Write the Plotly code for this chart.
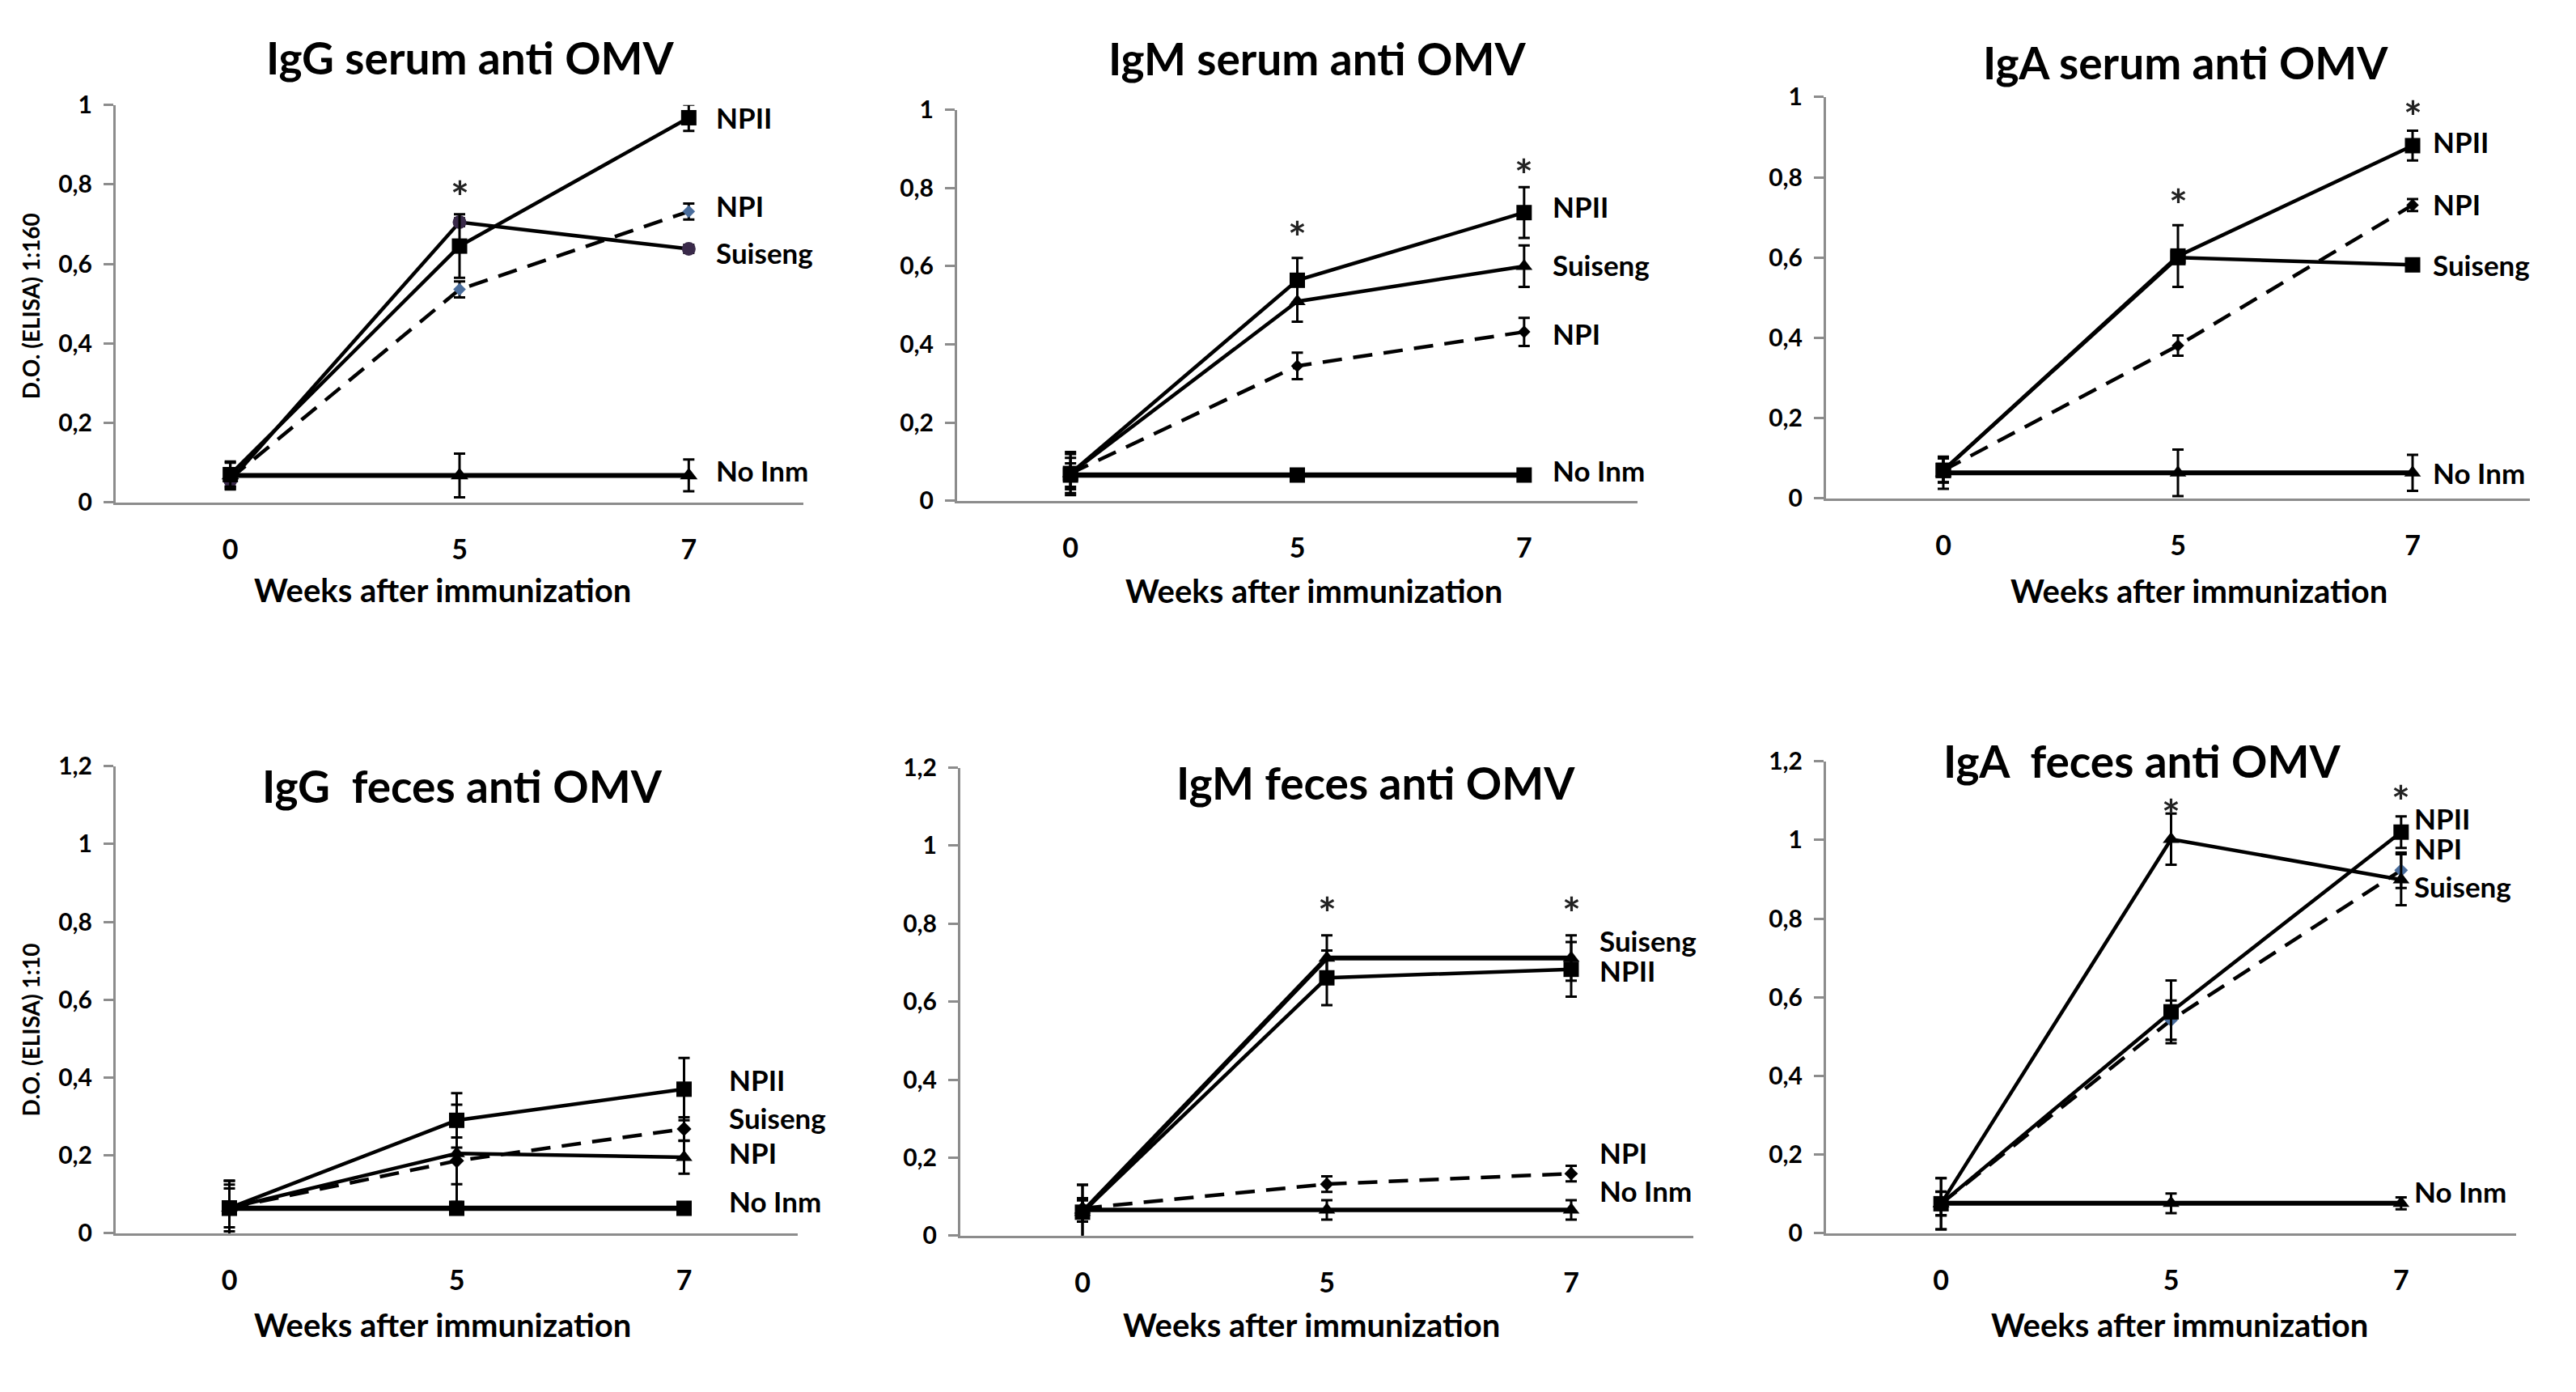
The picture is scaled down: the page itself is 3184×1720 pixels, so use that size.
import plotly.graph_objects as go

# ELISA anti-OMV antibody titres, serum (top row) and feces (bottom row)

W, H = 3184, 1720
PAD = 8  # default body margin of the html page

weeks = ["0", "5", "7"]

# IgG serum 1:160
igg_serum_npii = [0.07, 0.645, 0.968]
igg_serum_npii_err = [0.03, 0.08, 0.033]
igg_serum_npi = [0.06, 0.536, 0.732]
igg_serum_npi_err = [0.02, 0.02, 0.02]
igg_serum_suiseng = [0.055, 0.705, 0.638]
igg_serum_suiseng_err = [0.02, 0.01, 0.01]
igg_serum_noinm = [0.068, 0.068, 0.068]
igg_serum_noinm_err = [0.035, 0.055, 0.04]

# IgM serum
igm_serum_npii = [0.07, 0.564, 0.737]
igm_serum_npii_err = [0.055, 0.057, 0.065]
igm_serum_suiseng = [0.07, 0.51, 0.6]
igm_serum_suiseng_err = [0.05, 0.052, 0.053]
igm_serum_npi = [0.07, 0.345, 0.432]
igm_serum_npi_err = [0.04, 0.034, 0.036]
igm_serum_noinm = [0.066, 0.066, 0.066]
igm_serum_noinm_err = [0.03, 0.01, 0.01]

# IgA serum
iga_serum_npii = [0.07, 0.604, 0.879]
iga_serum_npii_err = [0.03, 0.077, 0.037]
iga_serum_suiseng = [0.07, 0.6, 0.582]
iga_serum_suiseng_err = [0.03, 0.01, 0.01]
iga_serum_npi = [0.07, 0.381, 0.731]
iga_serum_npi_err = [0.03, 0.025, 0.015]
iga_serum_noinm = [0.064, 0.064, 0.064]
iga_serum_noinm_err = [0.04, 0.058, 0.045]

# IgG feces 1:10
igg_feces_npii = [0.065, 0.29, 0.37]
igg_feces_npii_err = [0.07, 0.07, 0.08]
igg_feces_suiseng = [0.065, 0.186, 0.268]
igg_feces_suiseng_err = [0.06, 0.06, 0.03]
igg_feces_npi = [0.065, 0.205, 0.195]
igg_feces_npi_err = [0.05, 0.125, 0.042]
igg_feces_noinm = [0.064, 0.064, 0.064]
igg_feces_noinm_err = [0.07, 0.01, 0.01]

# IgM feces
igm_feces_suiseng = [0.06, 0.712, 0.712]
igm_feces_suiseng_err = [0.07, 0.058, 0.058]
igm_feces_npii = [0.06, 0.661, 0.683]
igm_feces_npii_err = [0.07, 0.07, 0.07]
igm_feces_npi = [0.07, 0.132, 0.159]
igm_feces_npi_err = [0.02, 0.02, 0.02]
igm_feces_noinm = [0.066, 0.066, 0.066]
igm_feces_noinm_err = [0.03, 0.025, 0.025]

# IgA feces
iga_feces_suiseng = [0.075, 1.002, 0.899]
iga_feces_suiseng_err = [0.065, 0.065, 0.065]
iga_feces_npii = [0.075, 0.563, 1.02]
iga_feces_npii_err = [0.065, 0.08, 0.04]
iga_feces_npi = [0.075, 0.542, 0.923]
iga_feces_npi_err = [0.03, 0.05, 0.045]
iga_feces_noinm = [0.076, 0.076, 0.076]
iga_feces_noinm_err = [0.03, 0.025, 0.015]

FONT = "Lato"
BLUE = "#4a6d9c"
PURPLE = "#3a2a4a"
AXIS = "#8c8c8c"

# series: (values, errors, marker symbol, marker size, marker colour, dashed, line width)
panels = [
    dict(
        title="IgG serum anti OMV", title_xy=(581, 52),
        xbox=(143, 993), ybox=(112, 614), ymax=1.0,
        xtitle_xy=(547, 725), ytitle="D.O. (ELISA) 1:160", ytitle_xy=(38, 366),
        series=[
            (igg_serum_noinm, igg_serum_noinm_err, "triangle-up", 19, "black", False, 6),
            (igg_serum_npi, igg_serum_npi_err, "diamond", 12, BLUE, True, 4.5),
            (igg_serum_suiseng, igg_serum_suiseng_err, "circle", 17, PURPLE, False, 4.5),
            (igg_serum_npii, igg_serum_npii_err, "square", 19, "black", False, 4.5),
        ],
        labels=[("NPII", 0.968), ("NPI", 0.747), ("Suiseng", 0.628), ("No Inm", 0.082)], label_x=2.11,
        stars=[(1, 0.79), (2, 1.04)],
    ),
    dict(
        title="IgM serum anti OMV", title_xy=(1628, 53),
        xbox=(1183, 2024), ybox=(118, 612), ymax=1.0,
        xtitle_xy=(1624, 726), ytitle=None,
        series=[
            (igm_serum_noinm, igm_serum_noinm_err, "square", 19, "black", False, 6.5),
            (igm_serum_npi, igm_serum_npi_err, "diamond", 12, "black", True, 4.5),
            (igm_serum_suiseng, igm_serum_suiseng_err, "triangle-up", 18, "black", False, 4.5),
            (igm_serum_npii, igm_serum_npii_err, "square", 19, "black", False, 4.5),
        ],
        labels=[("NPII", 0.754), ("Suiseng", 0.605), ("NPI", 0.429), ("No Inm", 0.078)], label_x=2.12,
        stars=[(1, 0.697), (2, 0.855)],
    ),
    dict(
        title="IgA serum anti OMV", title_xy=(2701, 58),
        xbox=(2257, 3127), ybox=(102, 609), ymax=1.0,
        xtitle_xy=(2718, 726), ytitle=None,
        series=[
            (iga_serum_noinm, iga_serum_noinm_err, "triangle-up", 18, "black", False, 6),
            (iga_serum_npi, iga_serum_npi_err, "diamond", 12, "black", True, 4.5),
            (iga_serum_suiseng, iga_serum_suiseng_err, "square", 19, "black", False, 4.5),
            (iga_serum_npii, iga_serum_npii_err, "square", 19, "black", False, 4.5),
        ],
        labels=[("NPII", 0.889), ("NPI", 0.733), ("Suiseng", 0.582), ("No Inm", 0.064)], label_x=2.08,
        stars=[(1, 0.753), (2, 0.973)],
    ),
    dict(
        title="IgG  feces anti OMV", title_xy=(571, 972),
        xbox=(143, 986), ybox=(947, 1537), ymax=1.2,
        xtitle_xy=(547, 1653), ytitle="D.O. (ELISA) 1:10", ytitle_xy=(38, 1280),
        series=[
            (igg_feces_noinm, igg_feces_noinm_err, "square", 19, "black", False, 6.5),
            (igg_feces_suiseng, igg_feces_suiseng_err, "diamond", 14, "black", True, 4.5),
            (igg_feces_npi, igg_feces_npi_err, "triangle-up", 18, "black", False, 4.5),
            (igg_feces_npii, igg_feces_npii_err, "square", 19, "black", False, 4.5),
        ],
        labels=[("NPII", 0.395), ("Suiseng", 0.296), ("NPI", 0.208), ("No Inm", 0.082)], label_x=2.19,
        stars=[],
    ),
    dict(
        title="IgM feces anti OMV", title_xy=(1700, 968),
        xbox=(1187, 2093), ybox=(949, 1540), ymax=1.2,
        xtitle_xy=(1621, 1653), ytitle=None,
        series=[
            (igm_feces_noinm, igm_feces_noinm_err, "triangle-up", 18, "black", False, 5.5),
            (igm_feces_npi, igm_feces_npi_err, "diamond", 13, "black", True, 4.5),
            (igm_feces_npii, igm_feces_npii_err, "square", 19, "black", False, 4.5),
            (igm_feces_suiseng, igm_feces_suiseng_err, "triangle-up", 18, "black", False, 6),
        ],
        labels=[("Suiseng", 0.756), ("NPII", 0.68), ("NPI", 0.214), ("No Inm", 0.115)], label_x=2.11,
        stars=[(1, 0.85), (2, 0.85)],
    ),
    dict(
        title="IgA  feces anti OMV", title_xy=(2647, 940),
        xbox=(2257, 3110), ybox=(941, 1537), ymax=1.2,
        xtitle_xy=(2694, 1653), ytitle=None,
        series=[
            (iga_feces_noinm, iga_feces_noinm_err, "triangle-up", 18, "black", False, 6),
            (iga_feces_npi, iga_feces_npi_err, "diamond", 13, BLUE, True, 4.5),
            (iga_feces_npii, iga_feces_npii_err, "square", 19, "black", False, 4.5),
            (iga_feces_suiseng, iga_feces_suiseng_err, "triangle-up", 18, "black", False, 4.5),
        ],
        labels=[("NPII", 1.056), ("NPI", 0.98), ("Suiseng", 0.883), ("No Inm", 0.106)], label_x=2.05,
        stars=[(1, 1.085), (2, 1.12)],
    ),
]

FW, FH = W - 2 * PAD, H - 2 * PAD


def px(x, y):
    return (x - PAD) / FW, 1 - (y - PAD) / FH


fig = go.Figure()
annotations = []

for i, p in enumerate(panels):
    n = "" if i == 0 else str(i + 1)
    xref, yref = "x" + n, "y" + n
    x0, x1 = p["xbox"]
    ytop, ybot = p["ybox"]
    dx0, _ = px(x0, 0)
    dx1, _ = px(x1, 0)
    _, dy0 = px(0, ybot)
    _, dy1 = px(0, ytop)

    for vals, errs, sym, size, mcol, dashed, lw in p["series"]:
        fig.add_trace(
            go.Scatter(
                x=weeks,
                y=vals,
                xaxis=xref,
                yaxis=yref,
                mode="lines+markers",
                line=dict(color="black", width=lw, dash="24px,14px" if dashed else "solid"),
                marker=dict(symbol=sym, size=size, color=mcol, line=dict(width=0)),
                error_y=dict(type="data", array=errs, color="black", thickness=3, width=7),
                cliponaxis=False,
                showlegend=False,
            )
        )

    fig.update_layout(
        {
            "xaxis" + n: dict(
                domain=[dx0, dx1],
                anchor=yref,
                type="category",
                range=[-0.5, 2.5],
                showline=True,
                linecolor=AXIS,
                linewidth=3,
                showgrid=False,
                zeroline=False,
                ticks="",
                ticklabelstandoff=26,
                tickfont=dict(family=FONT, size=34, color="black", weight="bold"),
            ),
            "yaxis" + n: dict(
                domain=[dy0, dy1],
                anchor=xref,
                range=[0, p["ymax"]],
                dtick=0.2,
                showline=True,
                linecolor=AXIS,
                linewidth=3,
                showgrid=False,
                zeroline=False,
                ticks="outside",
                ticklen=12,
                tickwidth=3,
                tickcolor=AXIS,
                ticklabelstandoff=8,
                tickfont=dict(family=FONT, size=30, color="black", weight="bold"),
            ),
            # second copy of the value axis, only for the inner half of the cross ticks
            "yaxis" + str(i + 7): dict(
                domain=[dy0, dy1],
                anchor=xref,
                overlaying=yref,
                range=[0, p["ymax"]],
                dtick=0.2,
                showline=False,
                showgrid=False,
                zeroline=False,
                ticks="inside",
                ticklen=12,
                tickwidth=3,
                tickcolor=AXIS,
                showticklabels=False,
            ),
        }
    )

    tx, ty = px(*p["title_xy"])
    annotations.append(dict(
        text="<b>%s</b>" % p["title"], x=tx, y=ty, xref="paper", yref="paper",
        xanchor="center", yanchor="middle", showarrow=False,
        font=dict(family=FONT, size=55, color="black"),
    ))
    ax, ay = px(*p["xtitle_xy"])
    annotations.append(dict(
        text="<b>Weeks after immunization</b>", x=ax, y=ay, xref="paper", yref="paper",
        xanchor="center", yanchor="middle", showarrow=False,
        font=dict(family=FONT, size=40, color="black"),
    ))
    if p["ytitle"]:
        vx, vy = px(*p["ytitle_xy"])
        annotations.append(dict(
            text="<b>%s</b>" % p["ytitle"], x=vx, y=vy, xref="paper", yref="paper",
            xanchor="center", yanchor="middle", textangle=-90, showarrow=False,
            font=dict(family=FONT, size=28, color="black"),
        ))
    for name, ly in p["labels"]:
        annotations.append(dict(
            text="<b>%s</b>" % name, x=p["label_x"], y=ly, xref=xref, yref=yref,
            xanchor="left", yanchor="middle", showarrow=False,
            font=dict(family=FONT, size=35, color="black"),
        ))
    for sx, sy in p["stars"]:
        annotations.append(dict(
            text="<b>*</b>", x=sx, y=sy, xref=xref, yref=yref,
            xanchor="center", yanchor="middle", yshift=-10, showarrow=False,
            font=dict(family=FONT, size=54, color="#222222"),
        ))

fig.update_layout(
    width=FW,
    height=FH,
    margin=dict(l=0, r=0, t=0, b=0),
    paper_bgcolor="white",
    plot_bgcolor="white",
    separators=",.",
    annotations=annotations,
)

fig.write_html("out.html")
